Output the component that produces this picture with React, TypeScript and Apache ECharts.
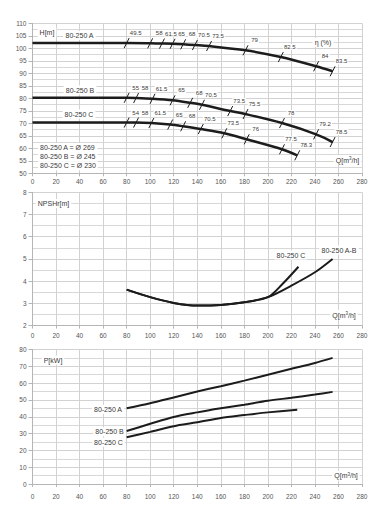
import React, { useEffect, useRef } from "react";
import * as echarts from "echarts";

// ---------- Head curves H[m] vs Q[m3/h] (efficiency marks at each point) ----------
const shutoffA = 102.1;
const qHeadA = [80, 100, 110, 119, 128, 138, 150, 181, 211, 241, 255];
const headA = [102.1, 102, 101.9, 101.8, 101.6, 101.3, 100.9, 99.2, 96.5, 92.8, 90.8];
const etaA = [49.5, 58, 61.5, 65, 68, 70.5, 73.5, 79, 82.5, 84, 83.5];

const shutoffB = 80.2;
const qHeadB = [80, 88, 102, 119, 134, 144, 168, 181, 212, 241, 255];
const headB = [80.2, 80.1, 79.8, 79.2, 78.2, 77.4, 74.9, 73.7, 70.1, 65.6, 62.5];
const etaB = [55, 58, 61.5, 65, 68, 70.5, 73.5, 75.5, 78, 79.2, 78.5];

const shutoffC = 70.3;
const qHeadC = [80, 88, 101, 117, 128, 143, 163, 182, 212, 225];
const headC = [70.3, 70.3, 70.1, 69.5, 68.8, 67.7, 66, 63.6, 59.6, 57.2];
const etaC = [54, 58, 61.5, 65, 68, 70.5, 73.5, 76, 77.5, 78.3];

// ---------- NPSHr[m] ----------
const qNpshAB = [80, 100, 120, 140, 160, 180, 200, 220, 240, 255];
const npshAB = [3.62, 3.28, 3.02, 2.9, 2.93, 3.05, 3.28, 3.8, 4.4, 5.0];
const qNpshC = [80, 100, 120, 140, 160, 180, 200, 212, 226];
const npshC = [3.62, 3.28, 3.02, 2.9, 2.93, 3.05, 3.28, 3.85, 4.65];

// ---------- Power P[kW] ----------
const qPowerAB = [80, 100, 120, 140, 160, 180, 200, 220, 240, 255];
const powerA = [45, 48, 51.5, 55, 58.2, 61.5, 65, 68.5, 72, 75];
const powerB = [31.5, 35.8, 39.9, 42.6, 45, 47.2, 49.5, 51.3, 53.2, 54.8];
const qPowerC = [80, 100, 120, 140, 160, 180, 200, 225];
const powerC = [27.8, 31, 34.4, 36.7, 39.3, 41, 42.6, 44.2];

// ---------- Texts ----------
const headLegend = ["80-250 A = Ø 269", "80-250 B = Ø 245", "80-250 C = Ø 230"];
const flowTitle = "Q[m{s|3}/h]";

const FONT = "Liberation Sans";
const TXT = "#3a3a3a";
const CURVE = "#1c1c1c";

const zip = (xs: number[], ys: number[]) => xs.map((x, i) => [x, ys[i]]);

function App() {
  const ref = useRef<HTMLDivElement>(null);

  useEffect(() => {
    if (!ref.current) return;
    const chart = echarts.init(ref.current, null, { renderer: "svg" });

    const grids = [
      { left: 32.5, right: 21, top: 23.3, height: 150 },
      { left: 32.5, right: 21, top: 192.3, height: 133.3 },
      { left: 32.5, right: 21, top: 349.5, height: 134.5 },
    ];
    const xLabelMargins = [5, 6, 9];

    const xAxis = [0, 1, 2].map((i) => ({
      type: "value",
      gridIndex: i,
      min: 0,
      max: 280,
      interval: 20,
      axisLine: { show: true, lineStyle: { color: "#b5b5b5", width: 1 } },
      axisTick: { show: true, length: 3, lineStyle: { color: "#b5b5b5" } },
      axisLabel: { color: "#555", fontSize: 6.5, fontFamily: FONT, margin: xLabelMargins[i] },
      splitLine: { show: true, lineStyle: { color: "#d2d2d2", width: 1 } },
    }));

    const yBase = (i: number, min: number, max: number, interval: number) => ({
      type: "value",
      gridIndex: i,
      min,
      max,
      interval,
      axisLine: { show: true, lineStyle: { color: "#b5b5b5", width: 1 } },
      axisTick: { show: true, length: 4, lineStyle: { color: "#b5b5b5" } },
      axisLabel: { color: "#555", fontSize: 6.5, fontFamily: FONT, margin: 6 },
      splitLine: { show: true, lineStyle: { color: "#d2d2d2", width: 1 } },
      minorTick: { show: false, splitNumber: 2 },
      minorSplitLine: { show: true, lineStyle: { color: "#d8d8d8", width: 1 } },
    });

    const lineSeries = (data: number[][], gi: number, width: number) => ({
      type: "line",
      xAxisIndex: gi,
      yAxisIndex: gi,
      data,
      symbol: "none",
      smooth: 0.3,
      lineStyle: { color: CURVE, width },
      z: 3,
    });

    const etaSeries = (q: number[], h: number[], eta: number[]) => ({
      type: "custom",
      xAxisIndex: 0,
      yAxisIndex: 0,
      clip: false,
      z: 5,
      data: q.map((x, i) => [x, h[i], eta[i]]),
      renderItem: (_p: any, api: any) => {
        const pt = api.coord([api.value(0), api.value(1)]);
        const val = api.value(2);
        return {
          type: "group",
          children: [
            {
              type: "line",
              shape: { x1: pt[0] - 2.5, y1: pt[1] + 5, x2: pt[0] + 2.5, y2: pt[1] - 5 },
              style: { stroke: CURVE, lineWidth: 1 },
            },
            {
              type: "text",
              style: {
                text: String(val),
                x: pt[0] + 9,
                y: pt[1] - 10,
                align: "center",
                verticalAlign: "middle",
                fontSize: 6,
                fontFamily: FONT,
                fill: TXT,
                backgroundColor: "#fff",
                padding: [0, 1],
              },
            },
          ],
        };
      },
    });

    const label = (text: string, x: number, y: number, align = "center") => ({
      type: "text",
      x,
      y,
      z: 10,
      style: {
        text,
        align,
        verticalAlign: "middle",
        fontSize: 7,
        fontFamily: FONT,
        fill: TXT,
        backgroundColor: "#fff",
        padding: [1, 2],
        rich: {
          s: { fontSize: 4.5, fontFamily: FONT, fill: TXT, verticalAlign: "top", padding: [0, 0, 3, 0] },
        },
      },
    });

    chart.setOption({
      animation: false,
      backgroundColor: "#fff",
      grid: grids,
      xAxis,
      yAxis: [yBase(0, 50, 110, 5), yBase(1, 2, 8, 1), yBase(2, 0, 80, 10)],
      series: [
        lineSeries([[0, shutoffA], ...zip(qHeadA, headA)], 0, 2.5),
        lineSeries([[0, shutoffB], ...zip(qHeadB, headB)], 0, 2.5),
        lineSeries([[0, shutoffC], ...zip(qHeadC, headC)], 0, 2.5),
        etaSeries(qHeadA, headA, etaA),
        etaSeries(qHeadB, headB, etaB),
        etaSeries(qHeadC, headC, etaC),
        lineSeries(zip(qNpshAB, npshAB), 1, 2),
        lineSeries(zip(qNpshC, npshC), 1, 2),
        lineSeries(zip(qPowerAB, powerA), 2, 2),
        lineSeries(zip(qPowerAB, powerB), 2, 2),
        lineSeries(zip(qPowerC, powerC), 2, 2),
      ],
      graphic: [
        label("H[m]", 47, 32.5),
        label("80-250 A", 79.5, 35.5),
        label("η (%)", 323, 42.5),
        label("80-250 B", 80, 90),
        label("80-250 C", 79, 114),
        label(headLegend[0], 38, 147.5, "left"),
        label(headLegend[1], 38, 156.7, "left"),
        label(headLegend[2], 38, 165.8, "left"),
        label(flowTitle, 347.5, 160),
        label("NPSHr[m]", 53.5, 203.5),
        label("80-250 C", 291, 255),
        label("80-250 A-B", 339, 250),
        label(flowTitle, 344, 315),
        label("P[kW]", 53, 360),
        label("80-250 A", 108, 409.5),
        label("80-250 B", 109.5, 431.7),
        label("80-250 C", 108.5, 442.3),
        label(flowTitle, 346, 475.7),
      ],
    });

    return () => chart.dispose();
  }, []);

  return (
    <div
      ref={ref}
      style={{ position: "absolute", left: 0, top: 0, width: 383, height: 513 }}
    />
  );
}

export default App;
